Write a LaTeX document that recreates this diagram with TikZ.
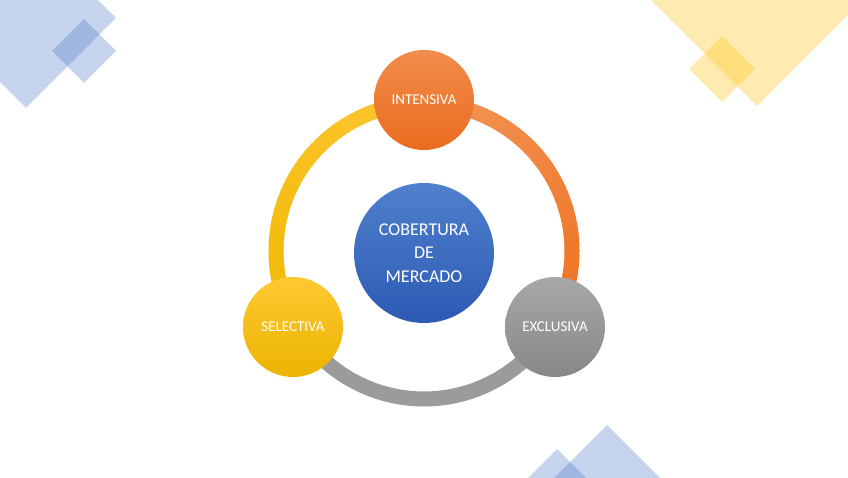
\documentclass[tikz,border=0pt]{standalone}
\usepackage{fontspec}
\setmainfont{Carlito}
\definecolor{decoblue}{RGB}{68,114,196}
\definecolor{decoyellow}{RGB}{255,192,0}
\definecolor{ytop}{RGB}{255,198,52}
\definecolor{ybot}{RGB}{238,185,0}
\definecolor{otop}{RGB}{243,150,90}
\definecolor{obot}{RGB}{238,112,30}
\definecolor{ringgray}{RGB}{155,155,155}
\definecolor{intTop}{RGB}{242,140,75}
\definecolor{intBot}{RGB}{233,108,30}
\definecolor{cenTop}{RGB}{80,128,205}
\definecolor{cenBot}{RGB}{44,90,180}
\definecolor{selTop}{RGB}{255,200,50}
\definecolor{selBot}{RGB}{235,180,0}
\definecolor{excTop}{RGB}{168,168,168}
\definecolor{excBot}{RGB}{135,135,135}
\begin{document}
\begin{tikzpicture}[x=1pt,y=1pt,
  sat/.style={circle, minimum size=100pt, inner sep=0pt, text=white,
    font=\fontsize{15}{18}\selectfont},
  deco/.style={opacity=0.3},
  ringseg/.style={line width=15pt}]
\useasboundingbox (0,0) rectangle (848,477);
\fill[white] (0,0) rectangle (848,477);
\begin{scope}
\clip (0,0) rectangle (848,477);
% top-left blue
\fill[decoblue,deco] (116,459)--(26,369)--(-64,459)--(26,549)--cycle;
\fill[decoblue,deco] (116,426)--(84,394)--(52,426)--(84,458)--cycle;
% top-right yellow
\fill[decoyellow,deco] (877,491)--(757,371)--(637,491)--(757,611)--cycle;
\fill[decoyellow,deco] (755,408)--(722,375)--(689,408)--(722,441)--cycle;
% bottom-right blue
\fill[decoblue,deco] (687,-28)--(607,-108)--(527,-28)--(607,52)--cycle;
\fill[decoblue,deco] (597,-12)--(557,-52)--(517,-12)--(557,28)--cycle;
\end{scope}
% ring
\coordinate (rc) at (424,226);
\draw[ringseg, ringgray] plot[domain=205:335, samples=60] ({424+148*cos(\x)},{226+148*sin(\x)});
\foreach \a in {90,92,...,208}{
  \pgfmathtruncatemacro\p{100*(\a-90)/120}
  \draw[ringseg, color=ybot!\p!ytop] plot[domain=\a:\a+2.6, samples=4] ({424+148*cos(\x)},{226+148*sin(\x)});
}
\foreach \a in {-30,-28,...,88}{
  \pgfmathtruncatemacro\p{100*(\a+30)/120}
  \draw[ringseg, color=otop!\p!obot] plot[domain=\a:\a+2.6, samples=4] ({424+148*cos(\x)},{226+148*sin(\x)});
}
% circles
\node[sat, top color=intTop, bottom color=intBot] (int) at (424,377) {INTENSIVA};
\node[sat, top color=selTop, bottom color=selBot] (sel) at (293,150) {SELECTIVA};
\node[sat, top color=excTop, bottom color=excBot] (exc) at (555,150) {EXCLUSIVA};
\node[circle, minimum size=140pt, inner sep=0pt, top color=cenTop, bottom color=cenBot,
  text=white, align=center, font=\fontsize{18}{23.5}\selectfont] (cen) at (424,224)
  {COBERTURA\\DE\\MERCADO};
\end{tikzpicture}
\end{document}
